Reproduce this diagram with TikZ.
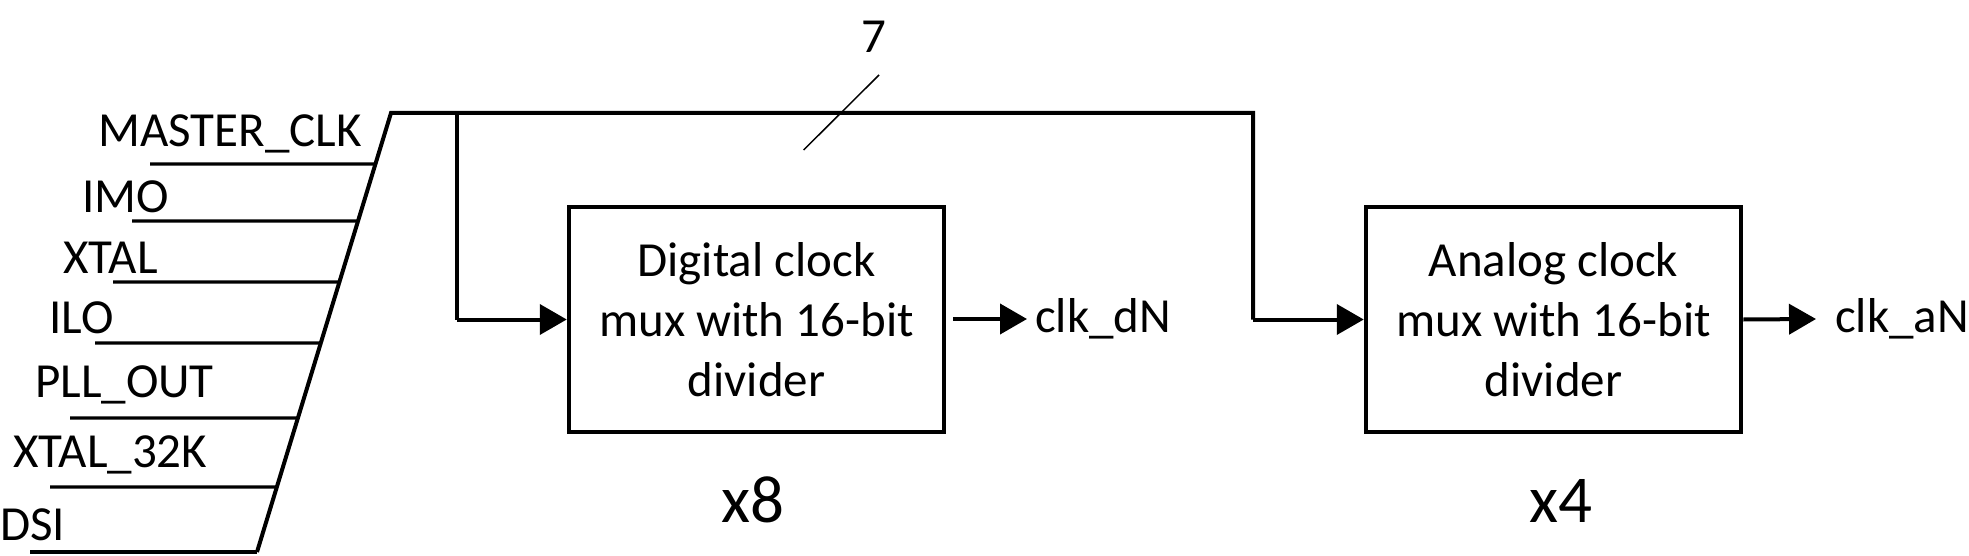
\documentclass[tikz,border=0pt]{standalone}
\usepackage{fontspec}
\setmainfont{Carlito}
\usetikzlibrary{arrows.meta,calc}
\begin{document}
\begin{tikzpicture}[x=1pt,y=-1pt,
  wire/.style={line width=4pt},
  inwire/.style={line width=3.3pt},
  thinwire/.style={line width=1.5pt},
  arr/.style={wire,-{Triangle[length=27pt,width=30pt]}},
  blk/.style={draw,line width=4.5pt,minimum width=375pt,minimum height=225pt,align=center,inner sep=0pt,font=\fontsize{49}{60}\selectfont},
  lbl/.style={inner sep=0pt,anchor=base west,font=\fontsize{49}{59}\selectfont},
  big/.style={inner sep=0pt,anchor=base,font=\fontsize{67}{80}\selectfont}]
\useasboundingbox (0,0) rectangle (1969,556);
% mux
\coordinate (mt) at (391,113);
\coordinate (mb) at (257,552);
\coordinate (be) at (1253,113);
\coordinate (br) at (456.5,113);
% blocks
\node[blk] (dig) at (756.5,319.5) {Digital clock\\mux with 16-bit\\divider};
\node[blk] (ana) at (1553.5,319.5) {Analog clock\\mux with 16-bit\\divider};
% bus
\draw[wire,line join=miter] (mb) -- (mt) -- (be) -- (be |- ana.west);
\draw[arr] (be |- ana.west) -- (ana.west);
\draw[wire] (br) -- (br |- dig.west);
\draw[arr] (br |- dig.west) -- (dig.west);
% slash and bus width
\coordinate (s1) at (879,75);
\coordinate (s2) at (803.6,150);
\draw[thinwire] (s1) -- (s2);
\node[inner sep=0pt,font=\fontsize{49}{59}\selectfont] (seven) at (874,37) {7};
% outputs
\node[inner sep=0pt,inner xsep=8pt,anchor=west,font=\fontsize{49}{59}\selectfont] (clkd) at (1027,319) {clk\_dN};
\coordinate (dout) at (953,319);
\draw[arr] (dout) -- (clkd.west);
\node[inner sep=0pt,inner xsep=19pt,anchor=west,font=\fontsize{49}{59}\selectfont] (clka) at (1816,319) {clk\_aN};
\draw[arr] (ana.east) -- (clka.west);
% multiplicities
\node[big] (x8) at (753,522) {x8};
\node[big] (x4) at (1561,522) {x4};
% inputs
\foreach \name/\txt/\tx/\ty/\lx/\ly in {
  i1/MASTER\_CLK/98/147/150/164,
  i2/IMO/82/212/132/221,
  i3/XTAL/63/273/113/282,
  i4/ILO/49/333/95/343,
  i5/PLL\_OUT/35/397/70/418,
  i6/XTAL\_32K/13/467/50/487,
  i7/DSI/0/540/30/552}{
  \node[lbl] (\name t) at (\tx,\ty) {\txt};
  \coordinate (\name) at (\lx,\ly);
  \draw[inwire] (\name) -- ($(mt)!{(\ly-113)/439}!(mb)$);
}
\end{tikzpicture}
\end{document}
